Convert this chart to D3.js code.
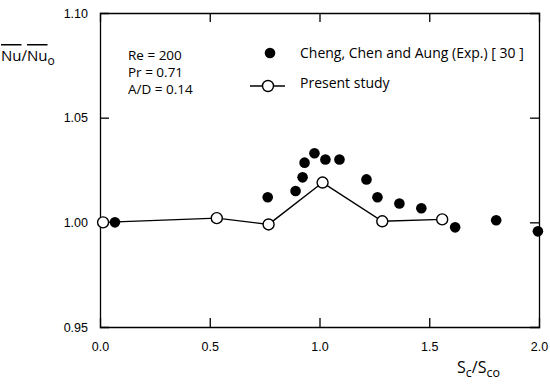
<!DOCTYPE html>
<html>
<head>
<meta charset="utf-8">
<script src="https://cdnjs.cloudflare.com/ajax/libs/d3/7.8.5/d3.min.js"></script>
<style>
  body { margin: 0; background: #fff; }
  svg { display: block; font-family: "Open Sans", "DejaVu Sans", sans-serif; }
  .axis path, .axis line { stroke: #000; stroke-width: 1.3px; }
  .axis text { font-size: 12.5px; fill: #000; }
  .note { font-size: 13.5px; fill: #000; }
</style>
</head>
<body>
<svg id="chart" width="550" height="385"></svg>
<script>
// Cheng, Chen and Aung (Exp.) [30]
var expX = [0.068, 0.764, 0.891, 0.923, 0.932, 0.977, 1.027, 1.091, 1.214, 1.264, 1.364, 1.464, 1.618, 1.805, 1.995];
var expY = [1.000, 1.012, 1.015, 1.0215, 1.0285, 1.033, 1.030, 1.030, 1.0205, 1.012, 1.009, 1.0067, 0.9976, 1.001, 0.9957];

// Present study
var presX = [0.014, 0.532, 0.768, 1.014, 1.286, 1.559];
var presY = [1.000, 1.002, 0.999, 1.019, 1.0005, 1.0014];

var xTicks = [0.0, 0.5, 1.0, 1.5, 2.0];
var yTicks = [0.95, 1.00, 1.05, 1.10];
var notes = ["Re = 200", "Pr = 0.71", "A/D = 0.14"];
var legendNames = ["Cheng, Chen and Aung (Exp.) [ 30 ]", "Present study"];

var svg = d3.select("#chart");
var margin = {left: 100, right: 11, top: 13, bottom: 58};
var width = 550 - margin.left - margin.right,
    height = 385 - margin.top - margin.bottom;

var x = d3.scaleLinear().domain([0, 2]).range([0, width]);
var y = d3.scaleLinear().domain([0.95, 1.10]).range([height, 0]);

var g = svg.append("g").attr("transform", "translate(" + margin.left + "," + margin.top + ")");

// frame + inward ticks
g.append("g").attr("class", "axis")
    .attr("transform", "translate(0," + height + ")")
    .call(d3.axisBottom(x).tickValues(xTicks).tickSize(-9).tickPadding(15).tickFormat(d3.format(".1f")))
    .call(function(s) { s.selectAll(".tick line").filter(function(d) { return d === 0 || d === 2; }).remove(); });

g.append("g").attr("class", "axis")
    .call(d3.axisLeft(y).tickValues(yTicks).tickSize(-9).tickPadding(12).tickFormat(d3.format(".2f")))
    .call(function(s) { s.selectAll(".tick line").filter(function(d) { return d === 0.95 || d === 1.10; }).remove(); });

g.append("g").attr("class", "axis")
    .call(d3.axisTop(x).tickValues([0.5, 1.0, 1.5]).tickSize(-9).tickFormat(""));

g.append("g").attr("class", "axis")
    .attr("transform", "translate(" + width + ",0)")
    .call(d3.axisRight(y).tickValues([1.00, 1.05]).tickSize(-9).tickFormat(""));

g.selectAll(".axis path").attr("fill", "none");

// present study line
var line = d3.line().x(function(d) { return x(d[0]); }).y(function(d) { return y(d[1]); });
var pres = presX.map(function(v, i) { return [v, presY[i]]; });
g.append("path")
    .datum(pres)
    .attr("d", line)
    .attr("fill", "none")
    .attr("stroke", "#000")
    .attr("stroke-width", 1.4);

// experimental points
g.selectAll(".exp")
    .data(expX.map(function(v, i) { return [v, expY[i]]; }))
    .enter().append("circle")
    .attr("class", "exp")
    .attr("cx", function(d) { return x(d[0]); })
    .attr("cy", function(d) { return y(d[1]); })
    .attr("r", 5.3)
    .attr("fill", "#000");

g.selectAll(".pres")
    .data(pres)
    .enter().append("circle")
    .attr("class", "pres")
    .attr("cx", function(d) { return x(d[0]); })
    .attr("cy", function(d) { return y(d[1]); })
    .attr("r", 5.5)
    .attr("fill", "#fff")
    .attr("stroke", "#000")
    .attr("stroke-width", 1.4);

// parameter notes
g.selectAll(".note.par")
    .data(notes)
    .enter().append("text")
    .attr("class", "note par")
    .attr("x", 28)
    .attr("y", function(d, i) { return 47 + i * 17; })
    .text(function(d) { return d; });

// legend
var leg = g.append("g").attr("transform", "translate(175,0)");
leg.append("circle").attr("cx", -5).attr("cy", 40).attr("r", 5.3).attr("fill", "#000");
leg.append("line").attr("x1", -25).attr("x2", 10).attr("y1", 73).attr("y2", 73)
    .attr("stroke", "#000").attr("stroke-width", 1.4);
leg.append("circle").attr("cx", -7).attr("cy", 73).attr("r", 5.5)
    .attr("fill", "#fff").attr("stroke", "#000").attr("stroke-width", 1.4);
leg.selectAll("text")
    .data(legendNames)
    .enter().append("text")
    .attr("class", "note")
    .attr("x", 25)
    .attr("y", function(d, i) { return 45 + i * 30; })
    .style("font-size", "14px")
    .text(function(d) { return d; });

// y label: Nu/Nu_o with overlines
var yl = svg.append("text").attr("class", "note").attr("x", 1).attr("y", 61).style("font-size", "15px");
yl.append("tspan").style("text-decoration", "overline").text("Nu");
yl.append("tspan").text("\u2215");
yl.append("tspan").style("text-decoration", "overline").text("Nu");
yl.append("tspan").attr("dy", 4).style("font-size", "12px").text("o");

// x label: Sc/Sco
var xl = svg.append("text").attr("class", "note").attr("x", 457).attr("y", 373).style("font-size", "16px");
xl.append("tspan").text("S");
xl.append("tspan").attr("dy", 4).style("font-size", "12.5px").text("c");
xl.append("tspan").attr("dy", -4).text("/S");
xl.append("tspan").attr("dy", 4).style("font-size", "12.5px").text("co");
</script>
</body>
</html>
